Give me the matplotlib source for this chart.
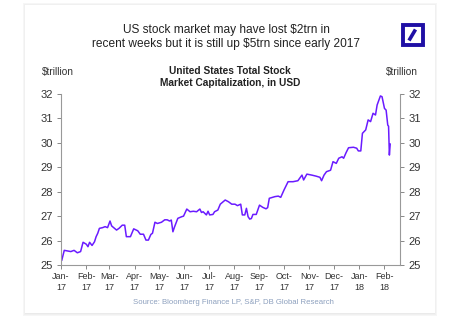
import matplotlib
matplotlib.use("Agg")
import matplotlib.pyplot as plt
from matplotlib.patches import Rectangle
from matplotlib.lines import Line2D
import pandas as pd

plt.rcParams['font.family'] = ['Liberation Sans', 'DejaVu Sans']

dates = ["2017-01-02", "2017-01-05", "2017-01-13", "2017-01-17", "2017-01-19", "2017-01-21",
         "2017-01-25", "2017-01-28", "2017-02-01", "2017-02-03", "2017-02-05", "2017-02-08",
         "2017-02-11", "2017-02-13", "2017-02-15", "2017-02-17", "2017-02-21", "2017-02-24",
         "2017-02-27", "2017-03-02", "2017-03-04", "2017-03-10", "2017-03-13", "2017-03-17",
         "2017-03-20", "2017-03-22", "2017-03-27", "2017-03-31", "2017-04-05", "2017-04-08",
         "2017-04-12", "2017-04-15", "2017-04-18", "2017-04-21", "2017-04-23", "2017-04-26",
         "2017-04-29", "2017-05-04", "2017-05-08", "2017-05-11", "2017-05-14", "2017-05-16",
         "2017-05-18", "2017-05-20", "2017-05-24", "2017-05-29", "2017-05-31", "2017-06-04",
         "2017-06-08", "2017-06-12", "2017-06-16", "2017-06-20", "2017-06-22", "2017-06-24",
         "2017-06-28", "2017-06-30", "2017-07-02", "2017-07-06", "2017-07-08", "2017-07-12",
         "2017-07-15", "2017-07-21", "2017-07-25", "2017-07-29", "2017-08-02", "2017-08-05",
         "2017-08-09", "2017-08-11", "2017-08-14", "2017-08-16", "2017-08-18", "2017-08-20",
         "2017-08-22", "2017-08-24", "2017-08-28", "2017-09-01", "2017-09-05", "2017-09-09",
         "2017-09-11", "2017-09-13", "2017-09-20", "2017-09-24", "2017-09-27", "2017-10-01",
         "2017-10-06", "2017-10-12", "2017-10-18", "2017-10-23", "2017-10-25", "2017-10-29",
         "2017-11-04", "2017-11-09", "2017-11-14", "2017-11-16", "2017-11-19", "2017-11-22",
         "2017-11-27", "2017-11-30", "2017-12-04", "2017-12-07", "2017-12-11", "2017-12-13",
         "2017-12-16", "2017-12-19", "2017-12-25", "2017-12-29", "2017-12-31", "2018-01-03",
         "2018-01-05", "2018-01-09", "2018-01-12", "2018-01-15", "2018-01-18", "2018-01-21",
         "2018-01-23", "2018-01-27", "2018-01-29", "2018-02-01", "2018-02-03", "2018-02-05",
         "2018-02-06", "2018-02-07", "2018-02-08"]
values = [25.2, 25.6, 25.55, 25.6, 25.55, 25.5,
          25.55, 25.93, 25.85, 25.75, 25.93, 25.8,
          25.95, 26.16, 26.3, 26.5, 26.53, 26.57,
          26.53, 26.8, 26.6, 26.43, 26.5, 26.63,
          26.63, 26.16, 26.16, 26.48, 26.4, 26.26,
          26.26, 26.02, 26.02, 26.25, 26.3, 26.75,
          26.7, 26.75, 26.85, 26.85, 26.8, 26.84,
          26.36, 26.56, 26.91, 26.98, 27.0, 27.29,
          27.18, 27.2, 27.18, 27.29, 27.15, 27.18,
          27.05, 27.2, 27.05, 27.07, 27.18, 27.25,
          27.49, 27.66, 27.59, 27.49, 27.49, 27.43,
          27.49, 27.05, 27.05, 27.32, 26.98, 26.88,
          26.9, 27.07, 27.07, 27.45, 27.36, 27.3,
          27.35, 27.73, 27.8, 27.82, 27.77, 28.07,
          28.41, 28.41, 28.45, 28.68, 28.48, 28.72,
          28.68, 28.64, 28.59, 28.45, 28.68, 28.82,
          28.88, 29.23, 29.16, 29.37, 29.43, 29.37,
          29.6, 29.8, 29.82, 29.78, 29.67, 29.67,
          30.39, 30.53, 30.94, 30.87, 31.21, 31.14,
          31.55, 31.92, 31.89, 31.41, 31.34, 30.73,
          30.68, 29.5, 29.95]

tick_dates = pd.date_range("2017-01-01", "2018-02-01", freq="MS")
tick_labels = ["Jan-\n17", "Feb-\n17", "Mar-\n17", "Apr-\n17", "May-\n17", "Jun-\n17", "Jul-\n17",
               "Aug-\n17", "Sep-\n17", "Oct-\n17", "Nov-\n17", "Dec-\n17", "Jan-\n18", "Feb-\n18"]
y_ticks = [25, 26, 27, 28, 29, 30, 31, 32]

title = "US stock market may have lost \\$2trn in\nrecent weeks but it is still up \\$5trn since early 2017"
subtitle = "United States Total Stock\nMarket Capitalization, in USD"
unit = "\\$trillion"
source = "Source: Bloomberg Finance LP, S&P, DB Global Research"

W, H = 463, 327
fig = plt.figure(figsize=(W / 100, H / 100), dpi=100)
fig.patch.set_facecolor("white")

def fx(px):
    return px / W

def fy(py):
    return 1 - py / H

# card shadow and card
for off, col in [(3, "#f6f6f6"), (2, "#f0f0f0"), (1, "#eaeaea")]:
    fig.patches.append(Rectangle((fx(25 - off + 1), fy(313 + off)), fx(410 + 2 * off - 2), (308 + 2 * off - 1) / H,
                                 transform=fig.transFigure, facecolor=col, edgecolor="none", zorder=-10))
fig.patches.append(Rectangle((fx(25), fy(313)), fx(410), 308 / H, transform=fig.transFigure,
                             facecolor="white", edgecolor="none", zorder=-9))

# logo
logo_blue = "#1f0fa5"
fig.patches.append(Rectangle((fx(402.5), fy(45)), fx(20), 20 / H, transform=fig.transFigure,
                             facecolor="white", edgecolor=logo_blue, linewidth=2.8, zorder=3))
fig.lines.append(Line2D([fx(409), fx(415.5)], [fy(40.5), fy(29.5)], transform=fig.transFigure,
                        color=logo_blue, linewidth=2.6, solid_capstyle="butt", zorder=4))

ax = fig.add_axes([fx(61), fy(265), fx(400) - fx(61), (265 - 94) / H])
ax.set_zorder(5)
ax.set_facecolor("none")
ax.plot(pd.to_datetime(dates), values, color="#6a1bff", linewidth=1.1)

ax.set_xlim(pd.Timestamp("2017-01-01"), pd.Timestamp("2018-02-20"))
ax.set_ylim(25, 32)
ax.set_xticks(tick_dates)
ax.set_xticklabels(tick_labels, fontsize=6.5, color="#333333", linespacing=1.25)
ax.set_yticks(y_ticks)
ax.tick_params(axis="y", which="both", labelsize=8, labelcolor="#333333", color="#888888",
               length=3, width=0.7, labelleft=True, labelright=True, left=True, right=True,
               direction="out", pad=3)
ax.tick_params(axis="x", length=3, width=0.7, color="#888888", pad=2)
for s in ["left", "right", "bottom"]:
    ax.spines[s].set_color("#999999")
    ax.spines[s].set_linewidth(0.8)
ax.spines["top"].set_visible(False)

fig.text(fx(226), fy(37), title, ha="center", va="center", fontsize=8.6, color="#222222", linespacing=1.2)
fig.text(fx(230), fy(77), subtitle, ha="center", va="center", fontsize=7.3, fontweight="bold",
         color="#222222", linespacing=1.3)
fig.text(fx(42), fy(72), unit, ha="left", va="center", fontsize=7.3, color="#333333")
fig.text(fx(418), fy(72), unit, ha="right", va="center", fontsize=7.3, color="#333333")
fig.text(fx(233), fy(302), source, ha="center", va="center", fontsize=5.6, color="#8da0be")

fig.savefig("out.png", dpi=100)
